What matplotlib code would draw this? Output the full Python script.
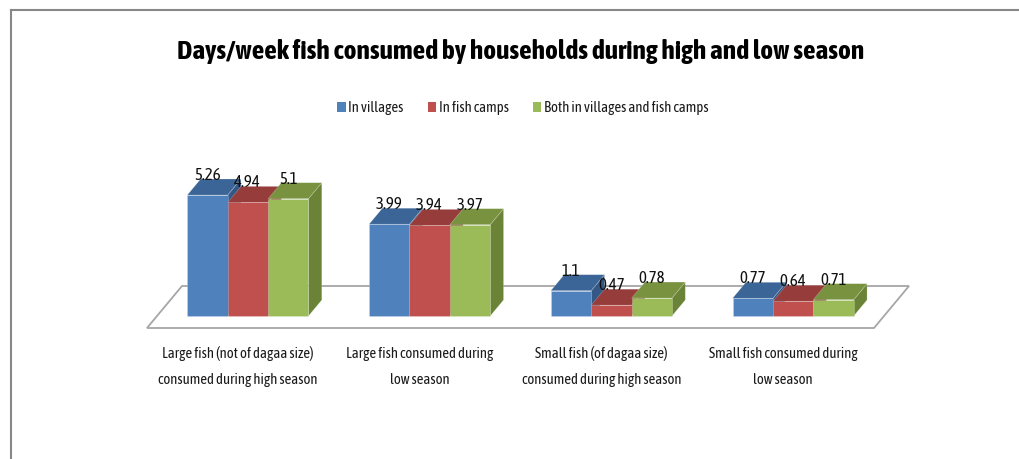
import matplotlib
matplotlib.use("Agg")
import matplotlib.pyplot as plt
from matplotlib import font_manager
from matplotlib.patches import Polygon, Patch
from matplotlib.lines import Line2D

categories = [
    "Large fish (not of dagaa size)\nconsumed during high season",
    "Large fish consumed during\nlow season",
    "Small fish (of dagaa size)\nconsumed during high season",
    "Small fish consumed during\nlow season",
]
series_names = ["In villages", "In fish camps", "Both in villages and fish camps"]
in_villages = [5.26, 3.99, 1.1, 0.77]
in_fish_camps = [4.94, 3.94, 0.47, 0.64]
both_places = [5.1, 3.97, 0.78, 0.71]
series_values = [in_villages, in_fish_camps, both_places]

# front / top / side shades for each series
FRONT = ["#4F81BD", "#C0504D", "#9BBB59"]
TOP = ["#3C6597", "#963D3B", "#78923F"]
SIDE = ["#345886", "#833533", "#6A8337"]


def is_bold(f):
    return f.weight in (600, 700, "bold", "semibold")


def narrow_fonts():
    """Condensed sans faces (bold, regular) from one family, else Roboto."""
    fonts = [f for f in font_manager.fontManager.ttflist
             if f.style == "normal"
             and ("Narrow" in f.name or "Condensed" in f.name
                  or f.stretch in ("condensed", "semi-condensed"))
             and "Mono" not in f.name and "Serif" not in f.name]
    fonts.sort(key=lambda f: (f.stretch != "semi-condensed", f.name))
    for b in fonts:
        if not is_bold(b):
            continue
        regs = [f for f in fonts if f.name == b.name and f.stretch == b.stretch
                and f.weight in (400, "normal", "regular")]
        if regs:
            return (font_manager.FontProperties(fname=b.fname),
                    font_manager.FontProperties(fname=regs[0].fname))
    return (font_manager.FontProperties(family="Roboto", weight="bold"),
            font_manager.FontProperties(family="Roboto"))


FP_BOLD, FP = narrow_fonts()

W, H = 1019, 459
fig = plt.figure(figsize=(W / 100, H / 100), dpi=100)
ax = fig.add_axes([0, 0, 1, 1])

# one category slot = 181.75 px, one day = 23 px, zero line at y=316 px
SLOT_PX, X0_PX, BASE_PX, UNIT_PX = 181.75, 147, 316, 23
ax.set_xlim(-X0_PX / SLOT_PX, (W - X0_PX) / SLOT_PX)
ax.set_ylim(-(H - BASE_PX) / UNIT_PX, BASE_PX / UNIT_PX)
ax.axis("off")

# oblique depth: full floor depth shifts (35 px, 42 px)
DX, DY = 35 / SLOT_PX, 42 / UNIT_PX
D0, D1 = 12 / 42, 28 / 42      # bar front / back depth on the floor
BW = 2 / 9                     # bar width in slot units


def proj(x, v, d):
    return (x + d * DX, v + (d - D0) * DY)


# floor
n = len(categories)
floor = [proj(0, 0, 0), proj(n, 0, 0), proj(n, 0, 1), proj(0, 0, 1)]
ax.add_patch(Polygon(floor, closed=True, facecolor="white",
                     edgecolor="#A6A6A6", lw=1.3, zorder=1))

z = 2
for i in range(n):
    for j, vals in enumerate(series_values):
        v = vals[i]
        x0 = i + 0.5 + (j - 1.5) * BW
        x1 = x0 + BW
        side = [proj(x1, 0, D0), proj(x1, 0, D1), proj(x1, v, D1), proj(x1, v, D0)]
        top = [proj(x0, v, D0), proj(x1, v, D0), proj(x1, v, D1), proj(x0, v, D1)]
        front = [proj(x0, 0, D0), proj(x1, 0, D0), proj(x1, v, D0), proj(x0, v, D0)]
        for poly, col in ((side, SIDE[j]), (top, TOP[j]), (front, FRONT[j])):
            ax.add_patch(Polygon(poly, closed=True, facecolor=col,
                                 edgecolor=(1, 1, 1, 0.25), lw=0.5, zorder=z))
            z += 1

# title, sized so it spans about 683 px
title = fig.text(521 / W, 1 - 52 / H,
                 "Days/week fish consumed by households during high and low season",
                 ha="center", va="center", fontproperties=FP_BOLD, fontsize=20,
                 color="black")
fig.canvas.draw()
renderer = fig.canvas.get_renderer()
title.set_fontsize(20 * 683 / title.get_window_extent(renderer).width)

# body text size: "consumed during high season" runs ~160 px wide
probe = fig.text(0, 0, "consumed during high season", fontproperties=FP, fontsize=10)
fs = 10 * 160 / probe.get_window_extent(renderer).width
probe.remove()
line_h = fs * 100 / 72

# value labels above each bar
for i in range(n):
    for j, vals in enumerate(series_values):
        v = vals[i]
        xc = i + 0.5 + (j - 1) * BW
        lx, ly = proj(xc, v, D1)
        ax.text(xc + D0 * DX, ly - 1 / UNIT_PX, f"{v:g}", ha="center",
                va="baseline", fontproperties=FP, fontsize=fs * 1.15,
                color="#111111", zorder=100)

# category labels under the floor, two lines each
for i, cat in enumerate(categories):
    first, second = cat.split("\n")
    ax.text(i + 0.5, -(358 - BASE_PX) / UNIT_PX, first,
            ha="center", va="baseline", fontproperties=FP, fontsize=fs,
            color="#1A1A1A")
    ax.text(i + 0.5, -(384 - BASE_PX) / UNIT_PX, second,
            ha="center", va="baseline", fontproperties=FP, fontsize=fs,
            color="#1A1A1A")

handles = [Patch(facecolor=c, edgecolor="none") for c in FRONT]
leg_fp = FP.copy()
leg_fp.set_size(fs)
fig.legend(handles, series_names, loc="center", ncol=3,
           bbox_to_anchor=(523 / W, 1 - 108 / H), frameon=False,
           prop=leg_fp, handlelength=0.55, handleheight=0.7,
           handletextpad=0.2, columnspacing=24 / line_h,
           labelcolor="#1A1A1A")

# chart area border
fig.add_artist(Line2D([11 / W, 1], [1 - 10 / H, 1 - 10 / H],
                      color="#878787", lw=1.5))
fig.add_artist(Line2D([11 / W, 11 / W], [0, 1 - 10 / H],
                      color="#878787", lw=1.5))

fig.savefig("out.png", dpi=100, facecolor="white")
